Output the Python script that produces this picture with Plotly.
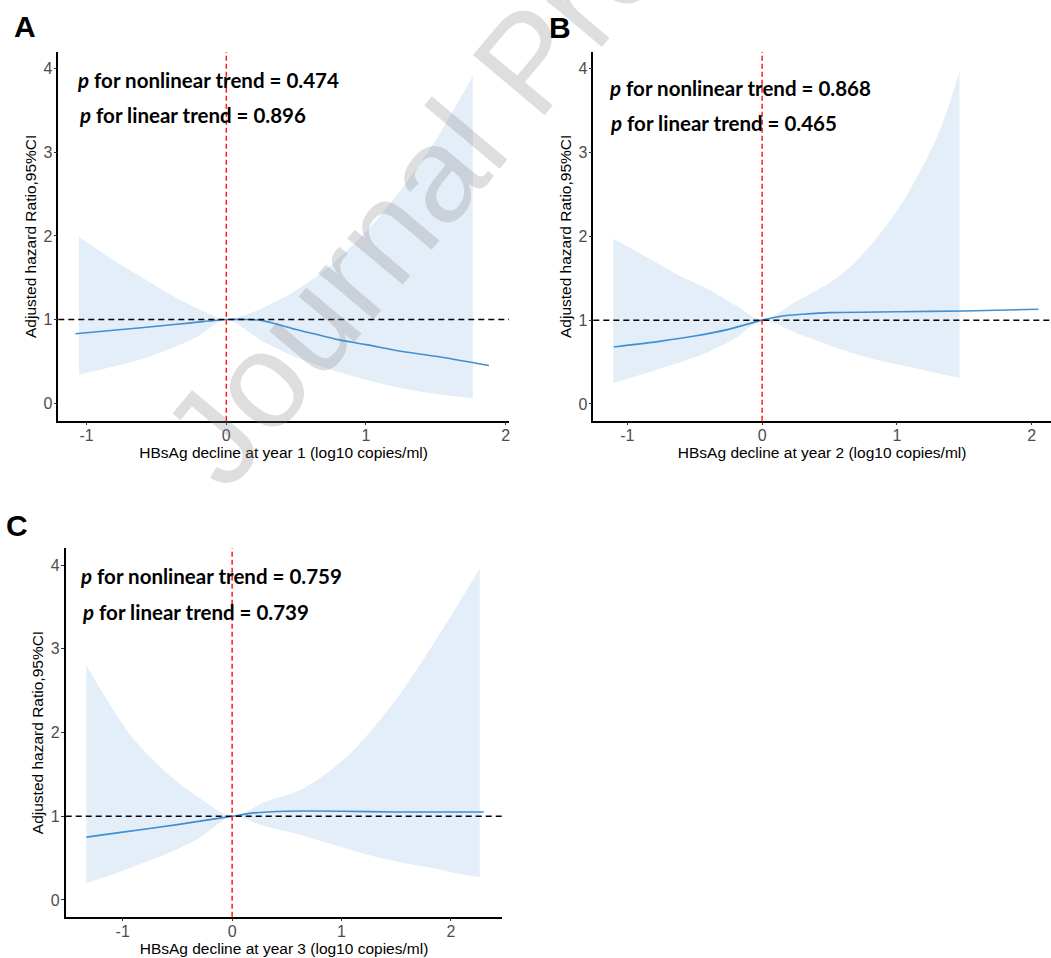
import plotly.graph_objects as go

W, H = 1051, 958

# ---------------- data ----------------
# Panel A (year 1)
a_line_x = [-1.08, -0.75, -0.5, -0.25, 0.0, 0.15, 0.25, 0.35, 0.5, 0.65, 0.8, 1.0, 1.25, 1.5, 1.88]
a_line_y = [0.83, 0.88, 0.92, 0.96, 1.0, 1.0, 0.99, 0.95, 0.88, 0.82, 0.76, 0.70, 0.62, 0.56, 0.45]
a_ci_x = [-1.055, -0.8, -0.6, -0.4, -0.2, 0.0, 0.25, 0.5, 0.75, 1.0, 1.25, 1.5, 1.765]
a_ci_hi = [1.99, 1.70, 1.50, 1.30, 1.13, 1.0, 1.13, 1.35, 1.65, 2.05, 2.55, 3.15, 3.91]
a_ci_lo = [0.34, 0.44, 0.53, 0.65, 0.80, 1.0, 0.75, 0.55, 0.40, 0.28, 0.18, 0.11, 0.06]

# Panel B (year 2)
b_line_x = [-1.1, -0.75, -0.5, -0.25, 0.0, 0.15, 0.3, 0.5, 1.0, 1.5, 2.05]
b_line_y = [0.68, 0.75, 0.81, 0.89, 1.0, 1.05, 1.07, 1.09, 1.10, 1.11, 1.13]
b_ci_x = [-1.103, -0.8, -0.6, -0.4, -0.2, 0.0, 0.25, 0.57, 0.82, 1.07, 1.32, 1.464]
b_ci_hi = [1.97, 1.70, 1.52, 1.37, 1.18, 1.0, 1.22, 1.52, 1.92, 2.48, 3.27, 3.97]
b_ci_lo = [0.25, 0.40, 0.50, 0.62, 0.78, 1.0, 0.85, 0.66, 0.54, 0.45, 0.36, 0.31]

# Panel C (year 3)
c_line_x = [-1.332, -1.0, -0.5, -0.25, 0.0, 0.2, 0.5, 1.0, 1.5, 2.3]
c_line_y = [0.75, 0.81, 0.90, 0.95, 1.0, 1.04, 1.06, 1.06, 1.05, 1.05]
c_ci_x = [-1.332, -1.1, -0.9, -0.6, -0.3, 0.0, 0.3, 0.62, 0.85, 1.08, 1.3, 1.54, 1.84, 2.05, 2.263]
c_ci_hi = [2.80, 2.30, 1.92, 1.52, 1.22, 1.0, 1.17, 1.31, 1.50, 1.75, 2.07, 2.47, 3.06, 3.50, 3.96]
c_ci_lo = [0.20, 0.30, 0.40, 0.55, 0.74, 1.0, 0.88, 0.78, 0.69, 0.60, 0.52, 0.45, 0.38, 0.32, 0.27]

x_titles = [
    "HBsAg decline at year 1 (log10 copies/ml)",
    "HBsAg decline at year 2 (log10 copies/ml)",
    "HBsAg decline at year 3 (log10 copies/ml)",
]
y_title = "Adjusted hazard Ratio,95%CI"
panel_letters = ["A", "B", "C"]
p_nonlinear = ["0.474", "0.868", "0.759"]
p_linear = ["0.896", "0.465", "0.739"]
x_tick_vals = [-1, 0, 1, 2]
y_tick_vals = [0, 1, 2, 3, 4]
REF_X = 0
REF_Y = 1
watermark = "Journal Pre-proof"

# ---------------- styling ----------------
LINE_COL = "#3F8FD2"
FILL_COL = "#E4EEF8"
AX_FONT = "Liberation Sans, Arial"

def px_x(p):
    return p / W

def px_y(p):
    return 1 - p / H

panels = [
    dict(lx=a_line_x, ly=a_line_y, cx=a_ci_x, hi=a_ci_hi, lo=a_ci_lo,
         xdom=[px_x(58.3), px_x(509)], ydom=[px_y(420.7), px_y(52)],
         xr=[-1.203, 2.024], yr=[-0.21, 4.2],
         letter=(25, 27), t1=(75, 80), t2=(77, 115)),
    dict(lx=b_line_x, ly=b_line_y, cx=b_ci_x, hi=b_ci_hi, lo=b_ci_lo,
         xdom=[px_x(593.3), 1.0], ydom=[px_y(420.7), px_y(52)],
         xr=[-1.252, 2.143], yr=[-0.2, 4.2],
         letter=(560, 28), t1=(606.7, 88), t2=(608, 123)),
    dict(lx=c_line_x, ly=c_line_y, cx=c_ci_x, hi=c_ci_hi, lo=c_ci_lo,
         xdom=[px_x(65.7), px_x(502.3)], ydom=[px_y(916.7), px_y(548.3)],
         xr=[-1.521, 2.469], yr=[-0.2, 4.2],
         letter=(17, 525), t1=(78, 576), t2=(80, 611.7)),
]

fig = go.Figure()
annotations = []
shapes = []
layout_axes = {}

for i, p in enumerate(panels):
    n = i + 1
    xa = "x" if n == 1 else f"x{n}"
    ya = "y" if n == 1 else f"y{n}"
    xkey = "xaxis" if n == 1 else f"xaxis{n}"
    ykey = "yaxis" if n == 1 else f"yaxis{n}"

    # 95% CI ribbon: lower bound then upper bound filled to it
    fig.add_trace(go.Scatter(x=p["cx"], y=p["lo"], mode="lines",
                             line=dict(width=0, color=FILL_COL, shape="spline", smoothing=0.8),
                             xaxis=xa, yaxis=ya, hoverinfo="skip", showlegend=False))
    fig.add_trace(go.Scatter(x=p["cx"], y=p["hi"], mode="lines", fill="tonexty",
                             fillcolor=FILL_COL,
                             line=dict(width=0, color=FILL_COL, shape="spline", smoothing=0.8),
                             xaxis=xa, yaxis=ya, hoverinfo="skip", showlegend=False))
    fig.add_trace(go.Scatter(x=p["lx"], y=p["ly"], mode="lines",
                             line=dict(color=LINE_COL, width=1.6, shape="spline", smoothing=0.7),
                             xaxis=xa, yaxis=ya, showlegend=False))

    layout_axes[xkey] = dict(
        domain=p["xdom"], range=p["xr"], anchor=ya, showgrid=False, zeroline=False,
        automargin=False,
        showline=True, linecolor="black", linewidth=1.5, ticks="outside", ticklen=3,
        tickcolor="#333333", tickwidth=1, tickvals=x_tick_vals,
        ticktext=[str(v) for v in x_tick_vals], ticklabelstandoff=-4,
        tickfont=dict(family=AX_FONT, size=16, color="#4D4D4D"),
        title=dict(text=x_titles[i], standoff=3,
                   font=dict(family=AX_FONT, size=15.5, color="black")),
    )
    layout_axes[ykey] = dict(
        domain=p["ydom"], range=p["yr"], anchor=xa, showgrid=False, zeroline=False,
        automargin=False,
        showline=True, linecolor="black", linewidth=1.5, ticks="outside", ticklen=3,
        tickcolor="#333333", tickwidth=1, tickvals=y_tick_vals, ticklabelstandoff=-2,
        tickfont=dict(family=AX_FONT, size=16, color="#4D4D4D"),
        title=dict(text=y_title, standoff=3,
                   font=dict(family=AX_FONT, size=15.5, color="black")),
    )

    xd = "x domain" if n == 1 else f"x{n} domain"
    yd = "y domain" if n == 1 else f"y{n} domain"
    shapes.append(dict(type="line", xref=xd, x0=0, x1=1, yref=ya, y0=REF_Y, y1=REF_Y,
                       line=dict(color="black", width=1.5, dash="6px,4px"), layer="above"))
    shapes.append(dict(type="line", xref=xa, x0=REF_X, x1=REF_X, yref=yd, y0=0, y1=1,
                       line=dict(color="#FF1A1A", width=1.5, dash="5px,3px"), layer="above"))

    annotations.append(dict(text=f"<b>{panel_letters[i]}</b>", xref="paper", yref="paper",
                            x=px_x(p["letter"][0]), y=px_y(p["letter"][1]),
                            xanchor="center", yanchor="middle", showarrow=False,
                            font=dict(family=AX_FONT, size=30, color="black")))
    annotations.append(dict(text=f"<b><i>p</i> for nonlinear trend = {p_nonlinear[i]}</b>",
                            xref="paper", yref="paper",
                            x=px_x(p["t1"][0]), y=px_y(p["t1"][1]),
                            xanchor="left", yanchor="middle", showarrow=False,
                            font=dict(family="Lato", size=20.5, color="black")))
    annotations.append(dict(text=f"<b><i>p</i> for linear trend = {p_linear[i]}</b>",
                            xref="paper", yref="paper",
                            x=px_x(p["t2"][0]), y=px_y(p["t2"][1]),
                            xanchor="left", yanchor="middle", showarrow=False,
                            font=dict(family="Lato", size=20.5, color="black")))

annotations.append(dict(text=watermark, xref="paper", yref="paper",
                        x=px_x(528), y=px_y(62), xanchor="center", yanchor="middle",
                        textangle=-50, showarrow=False,
                        font=dict(family=AX_FONT, size=136,
                                  color="rgba(128,128,128,0.26)")))

fig.update_layout(
    width=W, height=H, margin=dict(l=0, r=0, t=0, b=0, autoexpand=False),
    template="none",
    paper_bgcolor="white", plot_bgcolor="white",
    showlegend=False, annotations=annotations, shapes=shapes,
    **layout_axes,
)

fig.write_html(
    "out.html",
    config={"displayModeBar": False},
    post_script="document.body.style.margin='0';document.body.style.overflow='hidden';",
)
